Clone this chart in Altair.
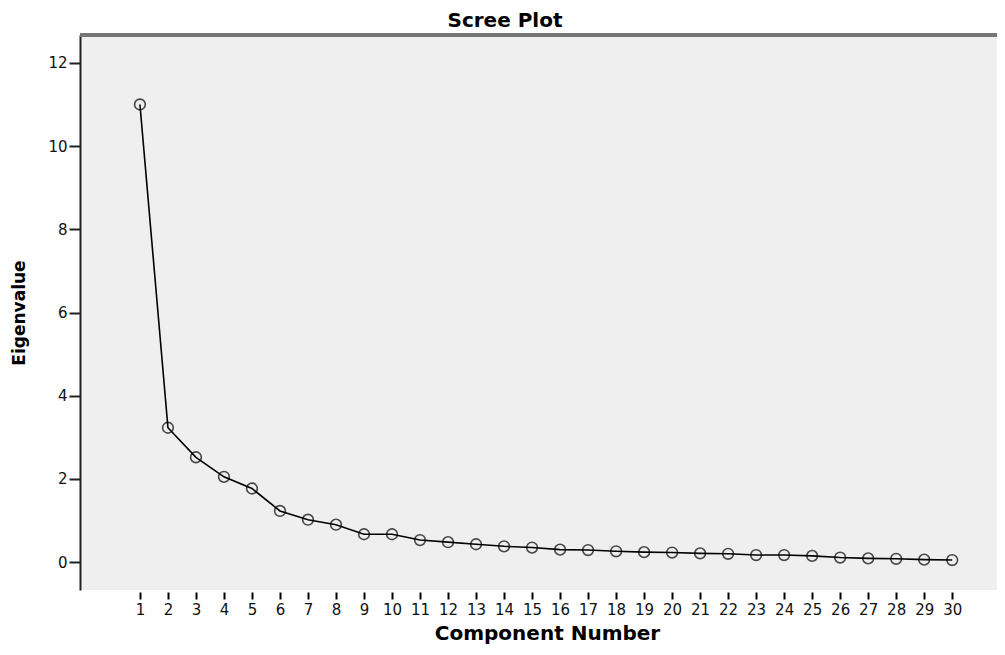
import altair as alt
import pandas as pd

components = list(range(1, 31))
eigenvalues = [11.0, 3.23, 2.52, 2.05, 1.77, 1.23, 1.02, 0.90, 0.67, 0.67,
               0.53, 0.48, 0.43, 0.38, 0.35, 0.30, 0.29, 0.26, 0.24, 0.23,
               0.21, 0.20, 0.17, 0.17, 0.15, 0.11, 0.09, 0.08, 0.06, 0.05]
y_ticks = [0, 2, 4, 6, 8, 10, 12]
chart_title = ["Scree Plot"]

df = pd.DataFrame({"Component": components, "Eigenvalue": eigenvalues})
title_df = pd.DataFrame({"t": chart_title})

FONT = "DejaVu Sans"
W, H = 917, 555

xscale = alt.Scale(domain=[-1.14, 31.6], nice=False, zero=False)
yscale = alt.Scale(domain=[-0.67, 12.67], nice=False, zero=False)

x = alt.X("Component:Q", scale=xscale,
          axis=alt.Axis(values=components, title="Component Number", domain=False,
                        grid=False, tickColor="#000", tickSize=7, tickWidth=2, offset=2,
                        labelFont=FONT, labelFontSize=15, labelColor="#111", labelPadding=3,
                        titleFont=FONT, titleFontSize=20, titleFontWeight="bold",
                        titleColor="#000", titlePadding=6, titleX=467))
y = alt.Y("Eigenvalue:Q", scale=yscale,
          axis=alt.Axis(values=y_ticks, title="Eigenvalue", domainColor="#222", domainWidth=2,
                        grid=False, tickColor="#222", tickSize=11, tickWidth=2,
                        labelFont=FONT, labelFontSize=15, labelColor="#111", labelPadding=2,
                        titleFont=FONT, titleFontSize=17, titleFontWeight="bold",
                        titleColor="#000", titlePadding=19))

line = alt.Chart(df).mark_line(color="#000", strokeWidth=1.6).encode(x=x, y=y)
pts = alt.Chart(df).mark_point(shape="circle", filled=False, color="#000",
                               size=115, strokeWidth=1.6).encode(x=x, y=y)
top = alt.Chart(df).mark_rule(color="#777", strokeWidth=3).encode(
    x=alt.value(0), x2=alt.value(W), y=alt.value(0))
title = alt.Chart(title_df).mark_text(font=FONT, fontSize=20, fontWeight="bold",
                                      color="#000", align="center",
                                      baseline="alphabetic").encode(
    text="t:N", x=alt.value(425), y=alt.value(-8))

chart = (alt.layer(top, line, pts, title)
         .properties(width=W, height=H,
                     padding={"left": 72, "top": 27, "right": 0, "bottom": 57},
                     autosize=alt.AutoSizeParams(type="none"))
         .configure_view(fill="#efefef", stroke=None))

chart.save("out.html", embed_options={"renderer": "svg", "actions": False})
